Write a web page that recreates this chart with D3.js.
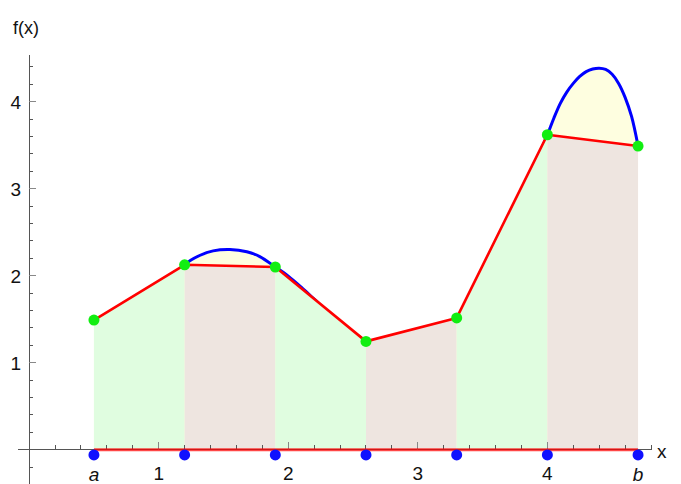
<!DOCTYPE html>
<html>
<head>
<meta charset="utf-8">
<script src="https://cdn.jsdelivr.net/npm/d3@7"></script>
<style>
  body { margin: 0; background: #fff; }
  svg { display: block; }
</style>
</head>
<body>
<div id="chart"></div>
<script>
// sample nodes of the trapezoid rule (a = 0.5, b = 4.7)
const nodeX = [0.5, 1.2, 1.9, 2.6, 3.3, 4.0, 4.7];
const nodeY = [1.49, 2.125, 2.10, 1.245, 1.515, 3.62, 3.49];
const nodeLabels = ['a', '', '', '', '', '', 'b'];

// the function curve
const curveX = [0.5, 0.6, 0.7, 0.8, 0.9, 1.0, 1.1, 1.2, 1.32, 1.42, 1.55, 1.68, 1.78, 1.9,
                2.0, 2.1, 2.2, 2.3, 2.4, 2.5, 2.6, 2.7, 2.8, 2.9, 3.0, 3.1, 3.2, 3.3,
                3.4, 3.5, 3.6, 3.7, 3.8, 3.9, 4.0, 4.05, 4.1, 4.15, 4.2, 4.25, 4.3, 4.35,
                4.4, 4.45, 4.5, 4.55, 4.6, 4.65, 4.7];
const curveY = [1.49, 1.47, 1.48, 1.52, 1.60, 1.72, 1.90, 2.125, 2.235, 2.285, 2.30, 2.275, 2.22, 2.10,
                1.995, 1.868, 1.73, 1.59, 1.47, 1.35, 1.245, 1.16, 1.12, 1.11, 1.15, 1.24, 1.37, 1.515,
                1.70, 1.93, 2.22, 2.55, 2.90, 3.26, 3.62, 3.81, 3.98, 4.11, 4.21, 4.29, 4.345, 4.375,
                4.385, 4.37, 4.315, 4.21, 4.05, 3.83, 3.49];

const xMajor = [1, 2, 3, 4];
const yMajor = [1, 2, 3, 4];
const xMinor = d3.range(1, 25).map(i => i * 0.2).filter(v => Math.abs(v - Math.round(v)) > 1e-6);
const yMinor = d3.range(-2, 23).map(i => i * 0.2).filter(v => Math.abs(v - Math.round(v)) > 1e-6);
const dotLevel = -0.06;

const width = 681, height = 484;
const fillColors = ['#e0fde0', '#eee5e0'];

const svg = d3.select('#chart')
    .append('svg')
    .attr('width', width)
    .attr('height', height)
    .style('font-family', '"Liberation Sans", Arial, sans-serif');

const x = d3.scaleLinear().domain([-0.09, 4.8]).range([17.5, 651]);
const y = d3.scaleLinear().domain([-0.4, 4.54]).range([484.5, 54.7]);

const curvePts = curveX.map((v, i) => [v, curveY[i]]);
const nodes = nodeX.map((v, i) => ({ x: v, y: nodeY[i], label: nodeLabels[i] }));

// yellow region under the curve (trapezoids cover most of it)
svg.append('path')
    .datum(curvePts)
    .attr('fill', '#fefee0')
    .attr('d', d3.area().x(d => x(d[0])).y0(y(0)).y1(d => y(d[1])).curve(d3.curveCatmullRom));

svg.append('path')
    .datum(curvePts)
    .attr('fill', 'none')
    .attr('stroke', '#0000ff')
    .attr('stroke-width', 3)
    .attr('d', d3.line().x(d => x(d[0])).y(d => y(d[1])).curve(d3.curveCatmullRom));

// trapezoids
const traps = d3.pairs(nodes);
svg.selectAll('path.trap')
    .data(traps)
    .join('path')
    .classed('trap', true)
    .attr('fill', (d, i) => fillColors[i % 2])
    .attr('d', d => 'M' + [
        [x(d[0].x), y(0)], [x(d[0].x), y(d[0].y)],
        [x(d[1].x), y(d[1].y)], [x(d[1].x), y(0)]
    ].join('L') + 'Z');

// axes
const axisColor = '#555';
const ax = svg.append('g').attr('stroke', axisColor).attr('stroke-width', 1).attr('shape-rendering', 'crispEdges');
ax.append('line').attr('x1', x.range()[0]).attr('x2', x.range()[1]).attr('y1', y(0)).attr('y2', y(0));
ax.append('line').attr('x1', x(0)).attr('x2', x(0)).attr('y1', y.range()[0]).attr('y2', y.range()[1]);

ax.selectAll('line.xmaj').data(xMajor).join('line').classed('xmaj', true)
    .attr('x1', d => x(d)).attr('x2', d => x(d)).attr('y1', y(0)).attr('y2', y(0) - 8).attr('stroke', '#888');
ax.selectAll('line.xmin').data(xMinor).join('line').classed('xmin', true)
    .attr('x1', d => x(d)).attr('x2', d => x(d)).attr('y1', y(0)).attr('y2', y(0) - 4.5);
ax.selectAll('line.ymaj').data(yMajor).join('line').classed('ymaj', true)
    .attr('x1', x(0)).attr('x2', x(0) + 7).attr('y1', d => y(d)).attr('y2', d => y(d)).attr('stroke', '#888');
ax.selectAll('line.ymin').data(yMinor).join('line').classed('ymin', true)
    .attr('x1', x(0)).attr('x2', x(0) + 4).attr('y1', d => y(d)).attr('y2', d => y(d));

// red top edges and red base
svg.append('path')
    .datum(nodes)
    .attr('fill', 'none')
    .attr('stroke', '#ff0000')
    .attr('stroke-width', 2.6)
    .attr('stroke-linejoin', 'round')
    .attr('d', d3.line().x(d => x(d.x)).y(d => y(d.y)));

svg.append('line')
    .attr('x1', x(nodeX[0])).attr('x2', x(nodeX[nodeX.length - 1]))
    .attr('y1', y(0)).attr('y2', y(0))
    .attr('stroke', '#ff0000')
    .attr('stroke-opacity', 0.72)
    .attr('stroke-width', 3);

// dots
svg.selectAll('circle.base')
    .data(nodes)
    .join('circle')
    .classed('base', true)
    .attr('cx', d => x(d.x))
    .attr('cy', y(dotLevel))
    .attr('r', 5.5)
    .attr('fill', '#1010ff');

svg.selectAll('circle.node')
    .data(nodes)
    .join('circle')
    .classed('node', true)
    .attr('cx', d => x(d.x))
    .attr('cy', d => y(d.y))
    .attr('r', 5.5)
    .attr('fill', '#11ee11');

// labels
svg.selectAll('text.xlab')
    .data(xMajor)
    .join('text')
    .classed('xlab', true)
    .attr('x', d => x(d))
    .attr('y', 480)
    .attr('text-anchor', 'middle')
    .attr('font-size', 19)
    .attr('fill', '#111')
    .text(d => d);

svg.selectAll('text.nlab')
    .data(nodes.filter(d => d.label))
    .join('text')
    .classed('nlab', true)
    .attr('x', d => x(d.x))
    .attr('y', 481)
    .attr('text-anchor', 'middle')
    .attr('font-size', 19)
    .attr('font-style', 'italic')
    .attr('fill', '#111')
    .text(d => d.label);

svg.selectAll('text.ylab')
    .data(yMajor)
    .join('text')
    .classed('ylab', true)
    .attr('x', x(0) - 8)
    .attr('y', d => y(d))
    .attr('dy', '0.36em')
    .attr('text-anchor', 'end')
    .attr('font-size', 19)
    .attr('fill', '#111')
    .text(d => d);

svg.append('text')
    .attr('x', 657)
    .attr('y', 458)
    .attr('font-size', 19)
    .attr('fill', '#111')
    .text('x');

svg.append('text')
    .attr('x', 13)
    .attr('y', 34)
    .attr('font-size', 18)
    .attr('fill', '#111')
    .text('f(x)');
</script>
</body>
</html>
